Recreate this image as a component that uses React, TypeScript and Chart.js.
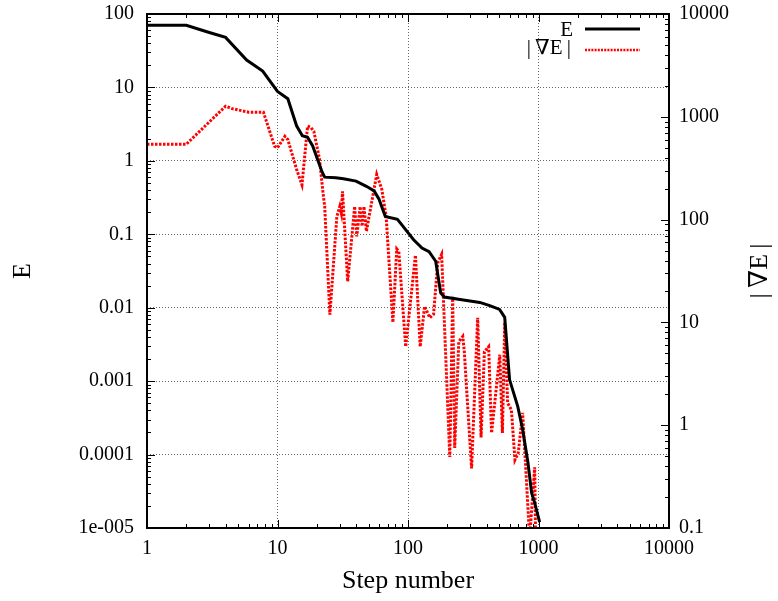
import { useEffect, useRef } from 'react';
import { Chart, registerables } from 'chart.js';

Chart.register(...registerables);

const SERIF = '"Liberation Serif", "DejaVu Serif", "Times New Roman", serif';

// Energy series
const stepsE = [1, 2, 3, 4, 5.8, 7.7, 10, 12, 14, 15.5, 17, 18.6, 22, 23, 28, 32, 40, 48, 55, 60, 67, 83, 91, 110, 128, 145, 163, 178, 190, 258, 355, 423, 503, 551, 600, 694, 756, 830, 886, 935, 1020];
const energy = [70, 70, 56, 48, 23.6, 16.7, 8.8, 7.0, 3.0, 2.2, 2.1, 1.6, 0.7, 0.6, 0.59, 0.57, 0.53, 0.45, 0.39, 0.3, 0.175, 0.16, 0.13, 0.085, 0.065, 0.058, 0.043, 0.016, 0.014, 0.0128, 0.0118, 0.0107, 0.0095, 0.0074, 0.00105, 0.00045, 0.00022, 7.8e-5, 3e-5, 2.2e-5, 1.2e-5];

// Gradient norm series
const stepsG = [1, 2, 4, 4.5, 6, 7.8, 9.5, 10, 11.4, 12, 14, 15.4, 17, 18, 19, 21, 22.3, 23, 25.2, 28.5, 30, 30.8, 31.5, 34.5, 39, 40.5, 43, 44.5, 46, 48, 57.6, 63, 68, 76.6, 82, 85, 96, 114, 124, 134, 147, 157, 169, 181, 209, 220, 228, 245, 263, 270, 307, 342, 363, 385, 415, 437, 505, 529, 551, 580, 620, 660, 700, 756, 855, 935, 950];
const grad = [541, 541, 1268, 1200, 1110, 1110, 517, 500, 646, 600, 309, 218, 809, 790, 720, 386, 184, 134, 11.9, 107, 134, 116, 188, 25, 134, 68.6, 134, 86, 134, 77, 275, 197, 107, 10, 51.8, 49, 5.8, 45, 5.8, 14.3, 11.1, 12, 38, 46, 0.49, 17.8, 0.6, 6.5, 7.3, 5.2, 0.38, 11.1, 0.76, 5.2, 5.8, 0.84, 4.85, 0.84, 10, 1.65, 1.41, 0.46, 0.54, 1.32, 0.08, 0.39, 0.08];

// Tick labels
const xTickValues = [1, 10, 100, 1000, 10000];
const xTickLabels = ['1', '10', '100', '1000', '10000'];
const eTickValues = [1e-5, 1e-4, 1e-3, 1e-2, 0.1, 1, 10, 100];
const eTickLabels = ['1e-005', '0.0001', '0.001', '0.01', '0.1', '1', '10', '100'];
const gTickValues = [0.1, 1, 10, 100, 1000, 10000];
const gTickLabels = ['0.1', '1', '10', '100', '1000', '10000'];

const labelFor = (vals: number[], labels: string[]) => (v: any) => {
  const i = vals.findIndex((t) => Math.abs(Math.log10(t) - Math.log10(Number(v))) < 1e-6);
  return i >= 0 ? labels[i] : '';
};

export default function App() {
  const ref = useRef<HTMLCanvasElement>(null);

  useEffect(() => {
    const canvas = ref.current!;
    const framePlugin = {
      id: 'frame',
      afterDatasetsDraw(chart: any) {
        const ctx = chart.ctx;
        const { left, right, top, bottom } = chart.chartArea;
        const xs = chart.scales.x;
        const ys = chart.scales.y;
        const y2 = chart.scales.y2;
        ctx.save();
        ctx.strokeStyle = '#000';
        ctx.lineWidth = 1;
        ctx.beginPath();
        for (let e = 0; e <= 4; e++) {
          for (let k = 1; k <= 9; k++) {
            const v = k * Math.pow(10, e);
            if (v > 10000) break;
            const p = Math.round(xs.getPixelForValue(v)) + 0.5;
            const len = k === 1 ? 8 : 4;
            ctx.moveTo(p, bottom);
            ctx.lineTo(p, bottom - len);
            ctx.moveTo(p, top);
            ctx.lineTo(p, top + len);
          }
        }
        for (let e = -5; e <= 2; e++) {
          for (let k = 1; k <= 9; k++) {
            const v = k * Math.pow(10, e);
            if (v > 100 * 1.0001) break;
            const p = Math.round(ys.getPixelForValue(v)) + 0.5;
            const len = k === 1 ? 8 : 4;
            ctx.moveTo(left, p);
            ctx.lineTo(left + len, p);
          }
        }
        for (let e = -1; e <= 4; e++) {
          for (let k = 1; k <= 9; k++) {
            const v = k * Math.pow(10, e);
            if (v > 10000 * 1.0001) break;
            const p = Math.round(y2.getPixelForValue(v)) + 0.5;
            const len = k === 1 ? 8 : 4;
            ctx.moveTo(right, p);
            ctx.lineTo(right - len, p);
          }
        }
        ctx.stroke();
        ctx.lineWidth = 2;
        ctx.strokeRect(left, top, right - left, bottom - top);

        // legend
        ctx.fillStyle = '#000';
        ctx.font = `21px ${SERIF}`;
        ctx.textAlign = 'right';
        ctx.textBaseline = 'middle';
        ctx.fillText('E', 573, 30);
        ctx.fillText('|\u2009\u2207E\u2009|', 571, 48);
        ctx.lineWidth = 3;
        ctx.strokeStyle = '#000';
        ctx.beginPath();
        ctx.moveTo(585, 29);
        ctx.lineTo(640, 29);
        ctx.stroke();
        ctx.strokeStyle = '#ff0000';
        ctx.lineWidth = 2.5;
        ctx.setLineDash([2, 1.2]);
        ctx.beginPath();
        ctx.moveTo(585, 50);
        ctx.lineTo(640, 50);
        ctx.stroke();
        ctx.setLineDash([]);

        // right axis title
        ctx.save();
        ctx.translate(760, (top + bottom) / 2);
        ctx.rotate(-Math.PI / 2);
        ctx.font = `26px ${SERIF}`;
        ctx.textAlign = 'center';
        ctx.textBaseline = 'middle';
        ctx.fillStyle = '#000';
        ctx.fillText('|\u2009\u2207E\u2009|', 0, 0);
        ctx.restore();
        ctx.restore();
      },
    };

    const tickFont = { family: SERIF, size: 20 };
    const gridCfg = { color: 'rgba(0,0,0,0.6)', lineWidth: 1, drawTicks: false };

    const chart = new Chart(canvas, {
      type: 'line',
      data: {
        datasets: [
          {
            label: 'E',
            data: stepsE.map((s, i) => ({ x: s, y: energy[i] })),
            borderColor: '#000000',
            borderWidth: 3,
            pointRadius: 0,
            tension: 0,
            yAxisID: 'y',
          },
          {
            label: '|∇E|',
            data: stepsG.map((s, i) => ({ x: s, y: grad[i] })),
            borderColor: '#ff0000',
            borderWidth: 3,
            borderDash: [2.5, 1.5],
            pointRadius: 0,
            tension: 0,
            yAxisID: 'y2',
          },
        ],
      },
      options: {
        responsive: false,
        animation: false,
        devicePixelRatio: 1,
        layout: { padding: { top: 14, left: 0, right: 0, bottom: 0 } },
        plugins: { legend: { display: false }, tooltip: { enabled: false } },
        scales: {
          x: {
            type: 'logarithmic',
            position: 'bottom',
            min: 1,
            max: 10000,
            afterBuildTicks: (s: any) => { s.ticks = xTickValues.map((v) => ({ value: v })); },
            afterFit: (s: any) => { s.height = 73; s.paddingLeft = 0; s.paddingRight = 0; },
            ticks: { font: tickFont, color: '#000', padding: 9, maxRotation: 0, autoSkip: false, callback: labelFor(xTickValues, xTickLabels) },
            grid: gridCfg,
            border: { display: false, dash: [1, 2] },
            title: { display: true, text: 'Step number', font: { family: SERIF, size: 26 }, color: '#000', padding: { top: 0, bottom: 4 } },
          },
          y: {
            type: 'logarithmic',
            position: 'left',
            min: 1e-5,
            max: 100,
            afterBuildTicks: (s: any) => { s.ticks = eTickValues.map((v) => ({ value: v })); },
            afterFit: (s: any) => { s.width = 147; s.paddingTop = 0; s.paddingBottom = 0; },
            ticks: { font: tickFont, color: '#000', padding: 13, autoSkip: false, callback: labelFor(eTickValues, eTickLabels) },
            grid: gridCfg,
            border: { display: false, dash: [1, 2] },
            title: { display: true, text: 'E', font: { family: SERIF, size: 26 }, color: '#000', padding: { top: 8, bottom: 0 } },
          },
          y2: {
            type: 'logarithmic',
            position: 'right',
            min: 0.1,
            max: 10000,
            afterBuildTicks: (s: any) => { s.ticks = gTickValues.map((v) => ({ value: v })); },
            afterFit: (s: any) => { s.width = 109; s.paddingTop = 0; s.paddingBottom = 0; },
            ticks: { font: tickFont, color: '#000', padding: 10, autoSkip: false, callback: labelFor(gTickValues, gTickLabels) },
            grid: { display: false, drawTicks: false },
            border: { display: false },
          },
        },
      },
      plugins: [framePlugin],
    } as any);

    return () => chart.destroy();
  }, []);

  return (
    <div style={{ position: 'absolute', left: 0, top: 0, width: 778, height: 601, background: '#fff' }}>
      <canvas ref={ref} width={778} height={601} style={{ display: 'block' }} />
    </div>
  );
}
